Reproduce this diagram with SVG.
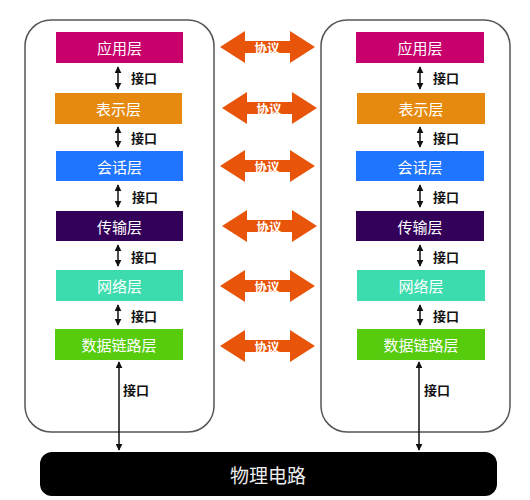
<svg xmlns="http://www.w3.org/2000/svg" width="530" height="500" viewBox="0 0 530 500">
<style>
.cont{fill:#fff;stroke:#555;stroke-width:1.5}
.lt{font-family:"Noto Sans CJK SC","Noto Sans",sans-serif;font-size:15px;fill:#fff;text-anchor:middle;dominant-baseline:central}
.if{font-family:"Noto Sans CJK SC","Noto Sans",sans-serif;font-size:13px;font-weight:bold;fill:#111;dominant-baseline:central}
.pt{font-family:"Noto Sans CJK SC","Noto Sans",sans-serif;font-size:12.5px;font-weight:bold;fill:#fff;text-anchor:middle;dominant-baseline:central}
.ln{stroke:#111;stroke-width:1.5;fill:none;marker-start:url(#ah);marker-end:url(#ah)}
.pa{fill:#e8540a}
</style>
<defs>
<marker id="ah" viewBox="0 0 10 10" refX="9" refY="5" markerWidth="7" markerHeight="7" orient="auto-start-reverse" markerUnits="userSpaceOnUse">
<path d="M0,0 L10,5 L0,10 z" fill="#111"/>
</marker>
<path id="parrow" d="M0,0 L25,-16 L25,-6 L70,-6 L70,-16 L95,0 L70,16 L70,6 L25,6 L25,16 z"/>
</defs>
<rect width="530" height="500" fill="#fff"/>
<g id="left-stack">
<rect class="cont" x="25" y="20" width="189" height="412" rx="26"/>
</g>
<g id="right-stack">
<rect class="cont" x="321" y="20" width="189" height="412" rx="26"/>
</g>
<g id="physical">
<rect x="40" y="452" width="457" height="44" rx="12" fill="#000"/>
<text x="268" y="474" font-family="Noto Sans CJK SC,sans-serif" font-size="19" fill="#eee" text-anchor="middle" dominant-baseline="central">物理电路</text>
</g>
<g id="L-app"><rect x="56" y="32" width="127" height="31" fill="#c8006e"/><text class="lt" x="119.5" y="47.5">应用层</text></g>
<g id="L-pres"><rect x="55" y="93" width="127" height="31" fill="#e68a0f"/><text class="lt" x="118.5" y="108.5">表示层</text></g>
<g id="L-sess"><rect x="56" y="151" width="127" height="30" fill="#1f75fe"/><text class="lt" x="119.5" y="166">会话层</text></g>
<g id="L-trans"><rect x="56" y="211" width="127" height="30" fill="#33005a"/><text class="lt" x="119.5" y="226">传输层</text></g>
<g id="L-net"><rect x="56" y="270" width="127" height="31" fill="#3ddcae"/><text class="lt" x="119.5" y="285.5">网络层</text></g>
<g id="L-link"><rect x="55" y="329" width="128" height="31" fill="#57cc0e"/><text class="lt" x="119" y="344.5">数据链路层</text></g>
<g id="R-app"><rect x="356" y="32" width="128" height="31" fill="#c8006e"/><text class="lt" x="420" y="47.5">应用层</text></g>
<g id="R-pres"><rect x="357" y="93" width="128" height="31" fill="#e68a0f"/><text class="lt" x="421" y="108.5">表示层</text></g>
<g id="R-sess"><rect x="356" y="151" width="128" height="30" fill="#1f75fe"/><text class="lt" x="420" y="166">会话层</text></g>
<g id="R-trans"><rect x="356" y="211" width="128" height="30" fill="#33005a"/><text class="lt" x="420" y="226">传输层</text></g>
<g id="R-net"><rect x="357" y="270" width="128" height="31" fill="#3ddcae"/><text class="lt" x="421" y="285.5">网络层</text></g>
<g id="R-link"><rect x="357" y="329" width="128" height="31" fill="#57cc0e"/><text class="lt" x="421" y="344.5">数据链路层</text></g>
<g id="connectors">
<line class="ln" x1="118" y1="67" x2="118" y2="89"/>
<line class="ln" x1="118" y1="127" x2="118" y2="147"/>
<line class="ln" x1="118" y1="185" x2="118" y2="207"/>
<line class="ln" x1="118" y1="245" x2="118" y2="266"/>
<line class="ln" x1="118" y1="305" x2="118" y2="325"/>
<line class="ln" x1="119" y1="362" x2="119" y2="450"/>
<line class="ln" x1="420" y1="67" x2="420" y2="89"/>
<line class="ln" x1="420" y1="127" x2="420" y2="147"/>
<line class="ln" x1="420" y1="185" x2="420" y2="207"/>
<line class="ln" x1="420" y1="245" x2="420" y2="266"/>
<line class="ln" x1="420" y1="305" x2="420" y2="325"/>
<line class="ln" x1="419" y1="362" x2="419" y2="450"/>
<text class="if" x="131" y="77">接口</text>
<text class="if" x="131" y="137">接口</text>
<text class="if" x="132" y="196">接口</text>
<text class="if" x="131" y="256">接口</text>
<text class="if" x="131" y="315">接口</text>
<text class="if" x="123" y="389">接口</text>
<text class="if" x="433" y="77">接口</text>
<text class="if" x="433" y="137">接口</text>
<text class="if" x="433" y="196">接口</text>
<text class="if" x="433" y="256">接口</text>
<text class="if" x="433" y="315">接口</text>
<text class="if" x="424" y="389">接口</text>
<use class="pa" href="#parrow" x="220" y="47"/>
<use class="pa" href="#parrow" x="222" y="108"/>
<use class="pa" href="#parrow" x="220" y="166"/>
<use class="pa" href="#parrow" x="222" y="226"/>
<use class="pa" href="#parrow" x="220" y="286"/>
<use class="pa" href="#parrow" x="220" y="346"/>
<text class="pt" x="267" y="47">协议</text>
<text class="pt" x="269" y="108">协议</text>
<text class="pt" x="267" y="166">协议</text>
<text class="pt" x="269" y="226">协议</text>
<text class="pt" x="267" y="286">协议</text>
<text class="pt" x="267" y="346">协议</text>
</g>
</svg>
